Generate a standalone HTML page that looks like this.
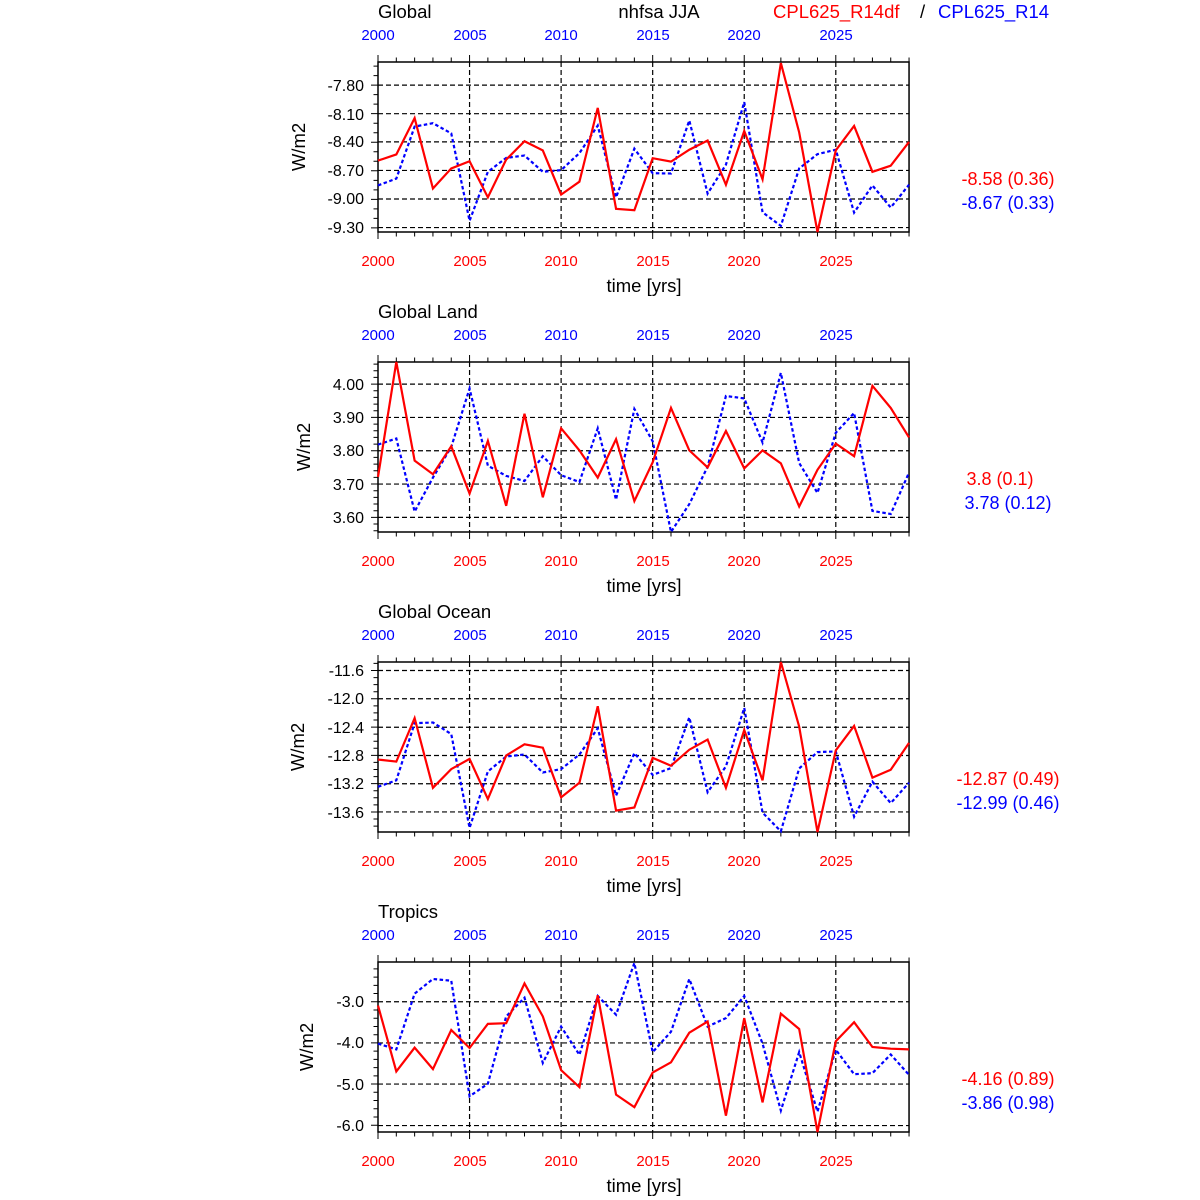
<!DOCTYPE html>
<html><head><meta charset="utf-8"><style>
body{margin:0;background:#fff}
svg{display:block;font-family:"Liberation Sans",sans-serif}
</style></head><body>
<svg id="s" width="1200" height="1200" viewBox="0 0 1200 1200">
<g font-size="18.5" fill="#000">
<text x="378" y="18">Global</text>
<text x="659" y="18" text-anchor="middle">nhfsa JJA</text>
<text x="773" y="18" fill="#f00">CPL625_R14df</text>
<text x="920" y="18">/</text>
<text x="938" y="18" fill="#00f">CPL625_R14</text>
<text x="378" y="318">Global Land</text>
<text x="378" y="618">Global Ocean</text>
<text x="378" y="918">Tropics</text>
</g>
<g id="plots"></g>
<g font-size="18">
<text x="1008" y="185" text-anchor="middle" fill="#f00">-8.58 (0.36)</text>
<text x="1008" y="209" text-anchor="middle" fill="#00f">-8.67 (0.33)</text>
<text x="1000" y="485" text-anchor="middle" fill="#f00">3.8 (0.1)</text>
<text x="1008" y="509" text-anchor="middle" fill="#00f">3.78 (0.12)</text>
<text x="1008" y="785" text-anchor="middle" fill="#f00">-12.87 (0.49)</text>
<text x="1008" y="809" text-anchor="middle" fill="#00f">-12.99 (0.46)</text>
<text x="1008" y="1085" text-anchor="middle" fill="#f00">-4.16 (0.89)</text>
<text x="1008" y="1109" text-anchor="middle" fill="#00f">-3.86 (0.98)</text>
</g>
<g font-size="18.5" text-anchor="middle">
<text x="644" y="292">time [yrs]</text>
<text x="644" y="592">time [yrs]</text>
<text x="644" y="892">time [yrs]</text>
<text x="644" y="1192">time [yrs]</text>
<text transform="translate(305,147) rotate(-90)">W/m2</text>
<text transform="translate(310,447) rotate(-90)">W/m2</text>
<text transform="translate(304,747) rotate(-90)">W/m2</text>
<text transform="translate(313,1047) rotate(-90)">W/m2</text>
</g>
<g font-size="15" text-anchor="middle">
<g fill="#00f">
<text x="378" y="40">2000</text><text x="470" y="40">2005</text><text x="561" y="40">2010</text><text x="653" y="40">2015</text><text x="744" y="40">2020</text><text x="836" y="40">2025</text>
<text x="378" y="340">2000</text><text x="470" y="340">2005</text><text x="561" y="340">2010</text><text x="653" y="340">2015</text><text x="744" y="340">2020</text><text x="836" y="340">2025</text>
<text x="378" y="640">2000</text><text x="470" y="640">2005</text><text x="561" y="640">2010</text><text x="653" y="640">2015</text><text x="744" y="640">2020</text><text x="836" y="640">2025</text>
<text x="378" y="940">2000</text><text x="470" y="940">2005</text><text x="561" y="940">2010</text><text x="653" y="940">2015</text><text x="744" y="940">2020</text><text x="836" y="940">2025</text>
</g>
<g fill="#f00">
<text x="378" y="266">2000</text><text x="470" y="266">2005</text><text x="561" y="266">2010</text><text x="653" y="266">2015</text><text x="744" y="266">2020</text><text x="836" y="266">2025</text>
<text x="378" y="566">2000</text><text x="470" y="566">2005</text><text x="561" y="566">2010</text><text x="653" y="566">2015</text><text x="744" y="566">2020</text><text x="836" y="566">2025</text>
<text x="378" y="866">2000</text><text x="470" y="866">2005</text><text x="561" y="866">2010</text><text x="653" y="866">2015</text><text x="744" y="866">2020</text><text x="836" y="866">2025</text>
<text x="378" y="1166">2000</text><text x="470" y="1166">2005</text><text x="561" y="1166">2010</text><text x="653" y="1166">2015</text><text x="744" y="1166">2020</text><text x="836" y="1166">2025</text>
</g>
</g>
<g font-size="16" text-anchor="end">
<text x="364" y="91">-7.80</text><text x="364" y="120">-8.10</text><text x="364" y="147">-8.40</text><text x="364" y="176">-8.70</text><text x="364" y="204">-9.00</text><text x="364" y="233">-9.30</text>
<text x="364" y="390">4.00</text><text x="364" y="423">3.90</text><text x="364" y="456">3.80</text><text x="364" y="490">3.70</text><text x="364" y="523">3.60</text>
<text x="364" y="676">-11.6</text><text x="364" y="704">-12.0</text><text x="364" y="733">-12.4</text><text x="364" y="761">-12.8</text><text x="364" y="789">-13.2</text><text x="364" y="818">-13.6</text>
<text x="364" y="1007">-3.0</text><text x="364" y="1048">-4.0</text><text x="364" y="1090">-5.0</text><text x="364" y="1131">-6.0</text>
</g>
</svg>
<script>
var SX=0.348,SY=0.34,NS="http://www.w3.org/2000/svg";
var P=[
{y0:53.5,grid:[93,177,260,344,428,512],minor:28,
r:[315,297,190,397,338,317,423,312,258,285,415,377,160,457,461,308,318,283,256,386,228,370,28,232,525,285,213,348,330,260],
b:[388,368,215,205,235,492,348,307,300,348,343,293,212,423,280,352,353,197,412,327,143,467,507,338,296,283,468,388,453,386]},
{y0:353.5,grid:[90,188,286,384,482],minor:19.6,
r:[363,25,315,355,273,412,257,448,177,423,220,285,365,252,434,320,160,285,335,228,338,285,323,450,342,265,302,95,160,247],
b:[268,250,465,365,275,103,330,360,375,302,358,378,220,430,163,258,525,443,333,125,132,262,57,322,410,233,175,463,472,350]},
{y0:653.5,grid:[50,133,217,300,383,466],minor:20.8,
r:[312,318,190,395,340,310,428,300,267,277,423,380,155,462,453,307,330,283,253,395,225,373,25,215,525,285,213,365,342,263],
b:[392,373,205,203,237,513,347,303,297,350,340,297,220,418,293,357,337,188,408,332,160,468,523,338,290,288,480,377,440,380]},
{y0:953.5,grid:[142,263,384,506],minor:24.2,
r:[153,347,277,340,225,278,207,205,88,185,343,393,123,415,452,350,320,233,200,477,190,438,177,222,525,258,202,275,280,282],
b:[265,282,118,75,80,420,383,185,130,322,215,298,125,180,28,290,230,75,215,190,125,265,462,290,465,283,355,352,297,357]}];
var root=document.getElementById("plots");
function el(n,a,p){var e=document.createElementNS(NS,n);for(var k in a)e.setAttribute(k,a[k]);p.appendChild(e);return e;}
P.forEach(function(p){
 var g=el("g",{},root);
 var X=function(i){return 369.65+(24+52.62*i)*SX;};
 var Y=function(v){return p.y0+v*SY;};
 var d="";
 p.grid.forEach(function(y){d+="M"+X(0)+" "+Y(y)+"H"+X(29);});
 for(var k=1;k<=5;k++){d+="M"+X(5*k)+" "+Y(25)+"V"+Y(525);}
 el("path",{d:d,stroke:"#000","stroke-width":1.2,"stroke-dasharray":"5 3",fill:"none"},g);
 var t="";
 for(var i=0;i<=29;i++){var L=(i%5==0)?7:4.5;t+="M"+X(i)+" "+Y(25)+"v-"+L+"M"+X(i)+" "+Y(525)+"v"+L;}
 var y=p.grid[0];
 while(y-p.minor>25)y-=p.minor;
 for(var yy=y;yy<525;yy+=p.minor){var maj=p.grid.some(function(q){return Math.abs(q-yy)<3;});t+="M"+X(0)+" "+Y(yy)+"h-"+(maj?7:4.5);}
 el("path",{d:t,stroke:"#000","stroke-width":1,fill:"none"},g);
 el("rect",{x:X(0),y:Y(25),width:X(29)-X(0),height:Y(525)-Y(25),fill:"none",stroke:"#000","stroke-width":1.5},g);
 var pr="",pb="";
 p.r.forEach(function(v,i){pr+=(i?"L":"M")+X(i)+" "+Y(v);});
 p.b.forEach(function(v,i){pb+=(i?"L":"M")+X(i)+" "+Y(v);});
 el("path",{d:pb,stroke:"#00f","stroke-width":2.2,"stroke-dasharray":"3.5 2.5",fill:"none"},g);
 el("path",{d:pr,stroke:"#f00","stroke-width":2.2,fill:"none"},g);
});
</script>
</body></html>
